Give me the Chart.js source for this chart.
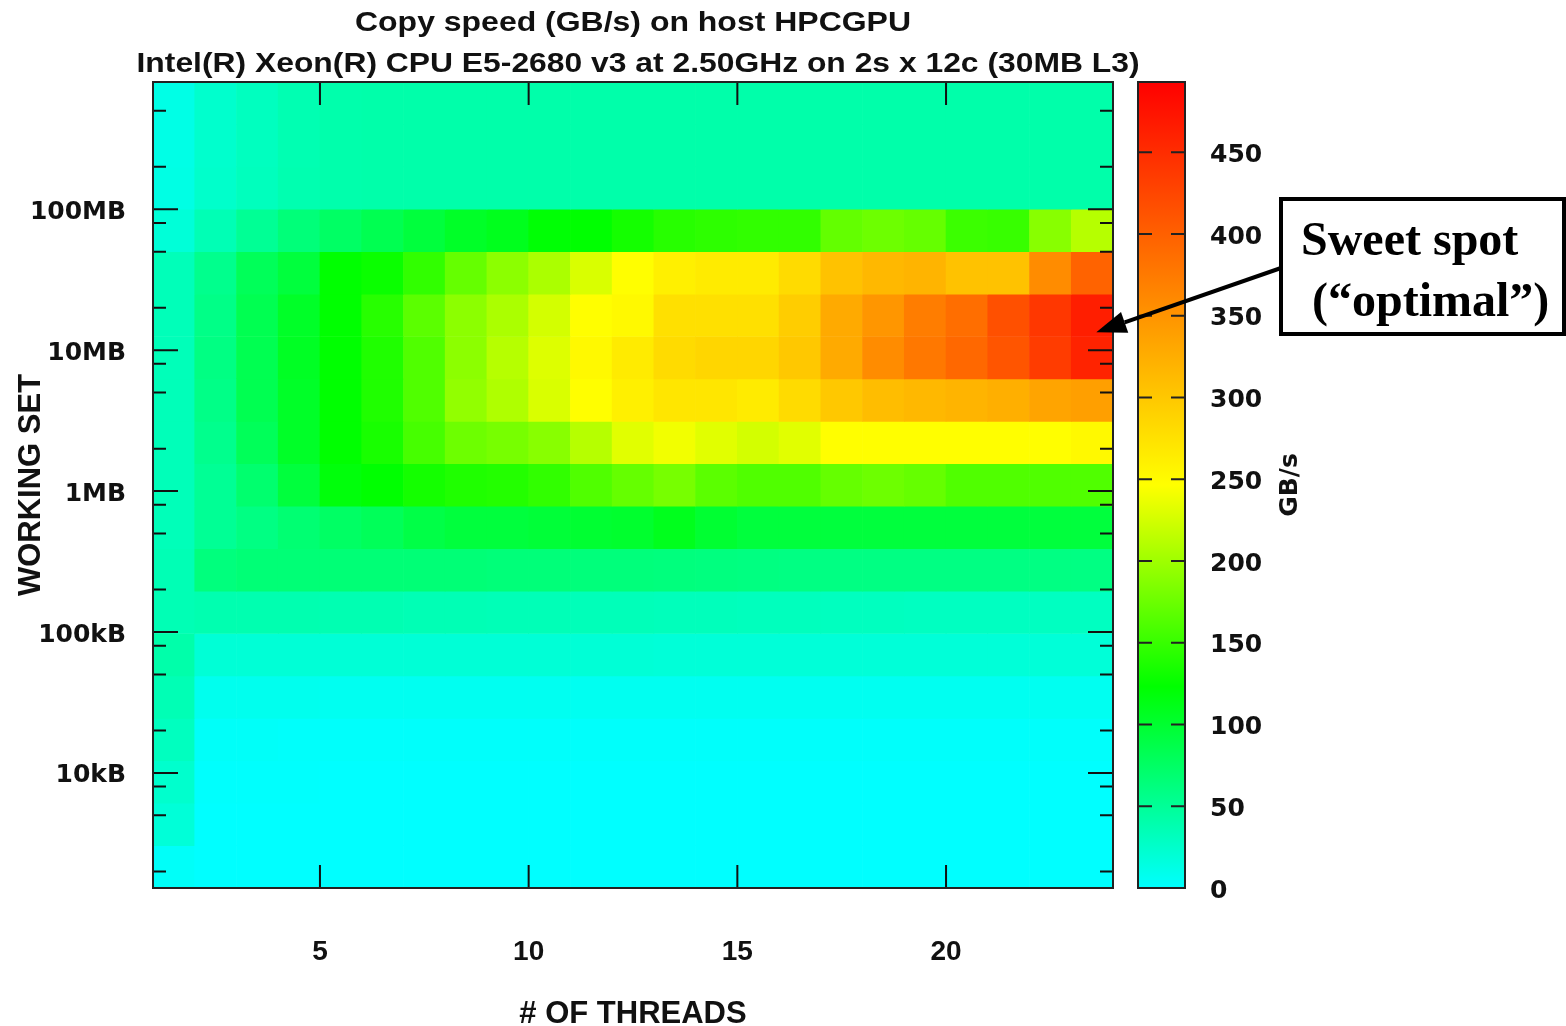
<!DOCTYPE html>
<html>
<head>
<meta charset="utf-8">
<title>Copy speed heatmap</title>
<script src="https://cdn.jsdelivr.net/npm/chart.js@4.4.1/dist/chart.umd.min.js"></script>
<style>
  body { margin: 0; background: #fff; }
  #wrap { position: relative; width: 1566px; height: 1026px; }
  canvas { position: absolute; top: 0; }
  #bar { left: 1100px; }
  #heat { left: 0; }
</style>
</head>
<body>
<div id="wrap">
  <canvas id="bar" width="300" height="1026"></canvas>
  <canvas id="heat" width="1566" height="1026"></canvas>
</div>
<script>
// columns: each cell spans thread t .. t+1
const threads = [1, 2, 3, 4, 5, 6, 7, 8, 9, 10, 11, 12, 13, 14, 15, 16, 17, 18, 19, 20, 21, 22, 23];

// rows (top to bottom): lower edge of the working set in bytes, each row spans x2
const sizes = [4e8, 2e8, 1e8, 5e7, 2.5e7, 1.25e7, 6.25e6, 3.125e6, 1.5625e6, 781250, 390625,
  195312.5, 97656.25, 48828.125, 24414.0625, 12207.03125, 6103.515625, 3051.7578125, 1525.87890625];

// copy speed in GB/s, one array per row
const speed = [
  [12, 24, 31, 37, 40, 41, 41, 41, 41, 41, 41, 41, 41, 41, 41, 41, 41, 41, 41, 41, 41, 41, 41],
  [12, 24, 31, 37, 40, 41, 41, 41, 41, 41, 41, 41, 41, 41, 41, 41, 41, 41, 41, 41, 41, 41, 41],
  [13, 25, 32, 38, 40, 41, 41, 41, 41, 41, 41, 41, 41, 41, 41, 41, 41, 41, 41, 41, 41, 41, 41],
  [19, 36, 51, 65, 75, 84, 94, 104, 109, 121, 123, 133, 142, 145, 147, 147, 171, 176, 172, 152, 150, 189, 211],
  [34, 55, 80, 94, 123, 128, 147, 172, 191, 206, 228, 247, 261, 266, 266, 281, 305, 315, 319, 305, 305, 358, 397],
  [34, 58, 84, 104, 123, 142, 167, 191, 206, 225, 247, 252, 276, 276, 276, 295, 329, 348, 372, 387, 416, 440, 464],
  [34, 60, 84, 106, 123, 138, 162, 191, 211, 230, 252, 266, 281, 286, 286, 300, 329, 358, 377, 392, 411, 435, 459],
  [34, 58, 84, 104, 123, 138, 162, 194, 208, 228, 247, 261, 271, 271, 266, 281, 300, 310, 315, 319, 324, 334, 339],
  [34, 55, 80, 104, 123, 135, 157, 176, 181, 189, 211, 232, 240, 232, 225, 232, 247, 247, 247, 247, 247, 247, 252],
  [34, 51, 70, 94, 118, 123, 133, 138, 140, 147, 162, 172, 181, 167, 162, 162, 172, 176, 172, 162, 162, 162, 162],
  [34, 51, 60, 68, 75, 80, 89, 94, 94, 96, 99, 101, 109, 99, 94, 94, 94, 94, 94, 94, 94, 94, 94],
  [36, 63, 66, 66, 66, 66, 66, 66, 65, 65, 64, 64, 63, 62, 61, 60, 60, 60, 60, 60, 60, 60, 60],
  [36, 38, 38, 38, 37, 37, 36, 36, 35, 35, 34, 34, 33, 33, 32, 32, 31, 31, 30, 30, 30, 30, 30],
  [41, 20, 20, 20, 20, 20, 20, 20, 20, 20, 20, 20, 19, 19, 19, 19, 19, 19, 19, 19, 19, 19, 19],
  [36, 8, 8, 8, 7, 7, 7, 7, 7, 7, 7, 7, 7, 7, 7, 7, 7, 7, 7, 7, 7, 7, 7],
  [31, 3, 3, 2, 2, 2, 2, 2, 2, 2, 2, 2, 2, 2, 2, 2, 2, 2, 2, 2, 2, 2, 2],
  [24, 1, 1, 1, 0, 0, 0, 0, 0, 0, 0, 0, 0, 0, 0, 0, 0, 0, 0, 0, 0, 0, 0],
  [19, 0, 0, 0, 0, 0, 0, 0, 0, 0, 0, 0, 0, 0, 0, 0, 0, 0, 0, 0, 0, 0, 0],
  [3, 0, 0, 0, 0, 0, 0, 0, 0, 0, 0, 0, 0, 0, 0, 0, 0, 0, 0, 0, 0, 0, 0]
];

const xTicks = [5, 10, 15, 20];
const yLabelVals = [1e4, 1e5, 1e6, 1e7, 1e8];
const yLabels = ['10kB', '100kB', '1MB', '10MB', '100MB'];
const yMinorVals = [2e3, 5e3, 8e3, 2e4, 5e4, 8e4, 2e5, 5e5, 8e5, 2e6, 5e6, 8e6, 2e7, 5e7, 8e7, 2e8, 5e8];
const cbMax = 493;
const cbTicks = [0, 50, 100, 150, 200, 250, 300, 350, 400, 450];

// palette: cyan -> green -> yellow -> red
const paletteStops = [0, 0.25, 0.5, 1];
const paletteColors = [[0, 255, 255], [0, 255, 0], [255, 255, 0], [255, 0, 0]];

function colorFor(v) {
  let t = Math.max(0, Math.min(1, v / cbMax));
  for (let i = 1; i < paletteStops.length; i++) {
    if (t <= paletteStops[i]) {
      const f = (t - paletteStops[i - 1]) / (paletteStops[i] - paletteStops[i - 1]);
      const a = paletteColors[i - 1], b = paletteColors[i];
      const c = a.map((x, k) => Math.round(x + (b[k] - x) * f));
      return 'rgb(' + c.join(',') + ')';
    }
  }
  return 'rgb(255,0,0)';
}

const tickFont = { family: 'DejaVu Sans', weight: 'bold', size: 25 };
const frameColor = '#222';

function stretchText(c, text, cx, base, font, width) {
  c.save();
  c.font = font;
  const w = c.measureText(text).width;
  c.translate(cx, base);
  c.scale(width / w, 1);
  c.textAlign = 'center';
  c.textBaseline = 'alphabetic';
  c.fillText(text, 0, 0);
  c.restore();
}

const heatDecor = {
  id: 'heatDecor',
  afterDraw(chart) {
    const c = chart.ctx, a = chart.chartArea, xs = chart.scales.x, ys = chart.scales.y;
    c.save();
    c.fillStyle = '#111';
    stretchText(c, 'Copy speed (GB/s) on host HPCGPU', 633, 31, 'bold 28px "Liberation Sans"', 556);
    stretchText(c, 'Intel(R) Xeon(R) CPU E5-2680 v3 at 2.50GHz on 2s x 12c (30MB L3)', 638, 72, 'bold 28px "Liberation Sans"', 1003);

    c.strokeStyle = '#111';
    c.lineWidth = 2;
    c.beginPath();
    ys.ticks.forEach(t => {
      const py = ys.getPixelForValue(t.value);
      const len = t.major ? 25 : 13;
      c.moveTo(a.left, py); c.lineTo(a.left + len, py);
      c.moveTo(a.right, py); c.lineTo(a.right - len, py);
    });
    xs.ticks.forEach(t => {
      const px = xs.getPixelForValue(t.value);
      c.moveTo(px, a.bottom); c.lineTo(px, a.bottom - 23);
      c.moveTo(px, a.top); c.lineTo(px, a.top + 23);
    });
    c.stroke();
    c.strokeStyle = frameColor;
    c.strokeRect(a.left, a.top, a.right - a.left, a.bottom - a.top);

    // annotation box
    c.lineWidth = 4;
    c.strokeStyle = '#000';
    c.fillStyle = '#fff';
    c.fillRect(1281, 199, 283, 135);
    c.strokeRect(1281, 199, 283, 135);
    c.fillStyle = '#000';
    c.font = 'bold 48px "Liberation Serif"';
    c.textAlign = 'left';
    c.textBaseline = 'alphabetic';
    c.fillText('Sweet spot', 1301, 255);
    c.fillText('(\u201Coptimal\u201D)', 1312, 316);

    // arrow to the hot cell
    const tx = xs.getPixelForValue(23.6), ty = ys.getPixelForValue(1.34e7);
    const sx = 1281, sy = 268;
    const ang = Math.atan2(ty - sy, tx - sx);
    const hl = 30, hw = 11;
    const bx = tx - hl * Math.cos(ang), by = ty - hl * Math.sin(ang);
    c.beginPath();
    c.moveTo(sx, sy); c.lineTo(bx, by);
    c.stroke();
    c.beginPath();
    c.moveTo(tx, ty);
    c.lineTo(bx + hw * Math.sin(ang), by - hw * Math.cos(ang));
    c.lineTo(bx - hw * Math.sin(ang), by + hw * Math.cos(ang));
    c.closePath();
    c.fill();
    c.restore();
  }
};

const datasets = sizes.map((lo, r) => ({
  label: 'row ' + r,
  data: threads.map((t, i) => ({ x: t + 0.5, y: [lo, lo * 2], v: speed[r][i] })),
  backgroundColor: ctx => ctx.raw ? colorFor(ctx.raw.v) : '#fff',
  borderWidth: 0,
  grouped: false,
  categoryPercentage: 1,
  barPercentage: 1
}));

new Chart(document.getElementById('heat'), {
  type: 'bar',
  data: { datasets },
  options: {
    responsive: false,
    animation: false,
    events: [],
    layout: { padding: { left: 0, top: 82, right: 453, bottom: 0 } },
    plugins: { legend: { display: false }, tooltip: { enabled: false } },
    scales: {
      x: {
        type: 'linear', min: 1, max: 24, offset: false,
        grid: { display: false, drawTicks: false },
        border: { display: false },
        afterBuildTicks: s => { s.ticks = xTicks.map(v => ({ value: v })); },
        afterFit: s => { s.height = 138; },
        ticks: { font: { family: 'Liberation Sans', weight: 'bold', size: 28 }, color: '#111', padding: 47, maxRotation: 0, autoSkip: false },
        title: { display: true, text: '# OF THREADS', color: '#111', padding: 0,
          font: { family: 'Liberation Sans', weight: 'bold', size: 31, lineHeight: 0.77 } }
      },
      y: {
        type: 'logarithmic', min: sizes[sizes.length - 1], max: sizes[0] * 2,
        grid: { display: false, drawTicks: false },
        border: { display: false },
        afterBuildTicks: s => {
          s.ticks = yMinorVals.map(v => ({ value: v, major: false }))
            .concat(yLabelVals.map(v => ({ value: v, major: true })));
        },
        afterFit: s => { s.width = 153; },
        ticks: {
          font: tickFont, color: '#111', padding: 27, autoSkip: false, labelOffset: 3,
          callback: v => { const i = yLabelVals.indexOf(v); return i >= 0 ? yLabels[i] : ''; }
        },
        title: { display: true, text: 'WORKING SET', color: '#111', padding: { top: 16, bottom: 0 },
          font: { family: 'Liberation Sans', weight: 'bold', size: 31, lineHeight: 1 } }
      }
    }
  },
  plugins: [heatDecor]
});

// colour bar
const barDecor = {
  id: 'barDecor',
  afterDraw(chart) {
    const c = chart.ctx, a = chart.chartArea, ys = chart.scales.y;
    c.save();
    c.strokeStyle = '#222';
    c.lineWidth = 2;
    c.beginPath();
    ys.ticks.forEach(t => {
      const py = ys.getPixelForValue(t.value);
      c.moveTo(a.left, py); c.lineTo(a.left + 14, py);
      c.moveTo(a.right, py); c.lineTo(a.right - 14, py);
    });
    c.stroke();
    c.strokeStyle = frameColor;
    c.strokeRect(a.left, a.top, a.right - a.left, a.bottom - a.top);
    c.translate(190, (a.top + a.bottom) / 2);
    c.rotate(-Math.PI / 2);
    c.fillStyle = '#111';
    c.font = 'bold 25px "DejaVu Sans"';
    c.textAlign = 'center';
    c.textBaseline = 'middle';
    c.fillText('GB/s', 0, 0);
    c.restore();
  }
};

function barGradient(ctx) {
  const chart = ctx.chart;
  if (!chart.chartArea) return null;
  const ys = chart.scales.y;
  const g = chart.ctx.createLinearGradient(0, ys.getPixelForValue(0), 0, ys.getPixelForValue(cbMax));
  paletteStops.forEach((s, i) => g.addColorStop(s, 'rgb(' + paletteColors[i].join(',') + ')'));
  return g;
}

new Chart(document.getElementById('bar'), {
  type: 'bar',
  data: {
    labels: ['GB/s'],
    datasets: [{ data: [[0, cbMax]], backgroundColor: barGradient, borderWidth: 0,
      categoryPercentage: 1, barPercentage: 1 }]
  },
  options: {
    responsive: false,
    animation: false,
    events: [],
    layout: { padding: { left: 38, top: 82, right: 0, bottom: 138 } },
    plugins: { legend: { display: false }, tooltip: { enabled: false } },
    scales: {
      x: { display: false },
      y: {
        position: 'right', min: 0, max: cbMax,
        grid: { display: false, drawTicks: false },
        border: { display: false },
        afterBuildTicks: s => { s.ticks = cbTicks.map(v => ({ value: v })); },
        afterFit: s => { s.width = 215; },
        ticks: { font: tickFont, color: '#111', padding: 25, labelOffset: 3 }
      }
    }
  },
  plugins: [barDecor]
});
</script>
</body>
</html>
